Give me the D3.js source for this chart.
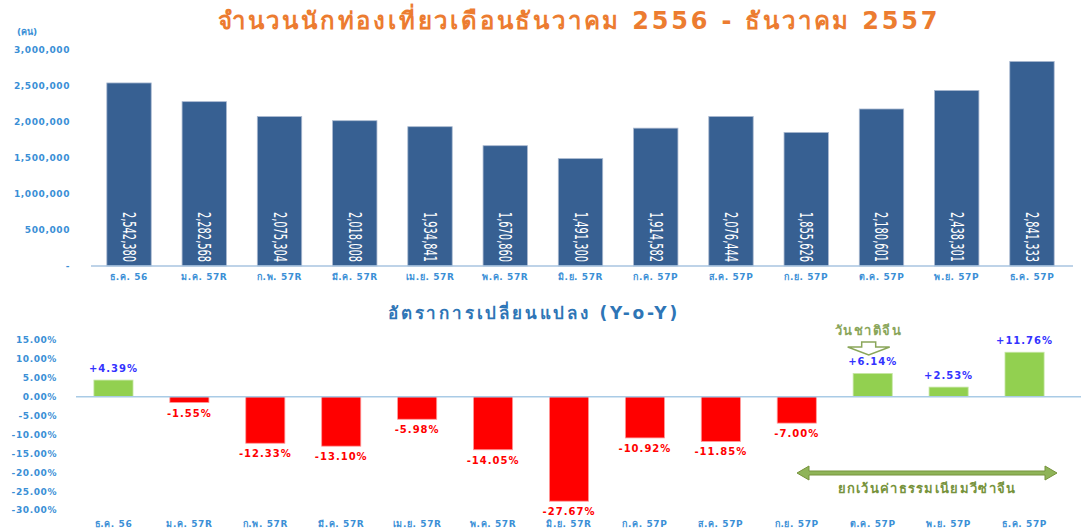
<!DOCTYPE html>
<html>
<head>
<meta charset="utf-8">
<title>D3</title>
<script src="https://d3js.org/d3.v7.min.js"></script>
<style>
  body { margin: 0; background: #fff; }
  text { font-family: "DejaVu Sans", "Noto Sans", sans-serif; }
</style>
</head>
<body>
<div id="my_dataviz"></div>
<script>
// months (R = revised, P = preliminary)
var months = ["ธ.ค. 56", "ม.ค. 57R", "ก.พ. 57R", "มี.ค. 57R", "เม.ย. 57R", "พ.ค. 57R", "มิ.ย. 57R",
              "ก.ค. 57P", "ส.ค. 57P", "ก.ย. 57P", "ต.ค. 57P", "พ.ย. 57P", "ธ.ค. 57P"];
// tourists per month
var tourists = [2542380, 2282568, 2075304, 2018008, 1934841, 1670860, 1491300,
                1914582, 2076444, 1855626, 2180601, 2438301, 2841333];
// year-on-year change, %
var yoy = [4.39, -1.55, -12.33, -13.10, -5.98, -14.05, -27.67,
           -10.92, -11.85, -7.00, 6.14, 2.53, 11.76];
var countTicks = [0, 500000, 1000000, 1500000, 2000000, 2500000, 3000000];
var pctTicks = [15, 10, 5, 0, -5, -10, -15, -20, -25, -30];

var W = 1081, H = 528;
var svg = d3.select("#my_dataviz").append("svg")
  .attr("width", W).attr("height", H);

var tickBlue = "#3b8fd6";

// ---------- top chart ----------
svg.append("text")
  .attr("x", 579).attr("y", 29)
  .attr("text-anchor", "middle")
  .style("font-size", "24px").style("font-weight", "bold")
  .style("letter-spacing", "2.8px")
  .style("fill", "#ec7c30")
  .text("จำนวนนักท่องเที่ยวเดือนธันวาคม  2556 - ธันวาคม 2557");

svg.append("text")
  .attr("x", 17).attr("y", 35)
  .style("font-size", "9px").style("font-weight", "bold")
  .style("fill", tickBlue)
  .text("(คน)");

var x1 = d3.scaleBand().domain(months).range([91.4, 1069.6])
  .paddingInner(0.41).paddingOuter(0.205);
var y1 = d3.scaleLinear().domain([0, 3000000]).range([266, 50]);

var yAxis1 = svg.append("g")
  .attr("transform", "translate(76,0)")
  .call(d3.axisLeft(y1).tickValues(countTicks).tickSize(0).tickPadding(6)
    .tickFormat(function(d) { return d === 0 ? "-" : d3.format(",")(d); }));
yAxis1.select(".domain").remove();
yAxis1.selectAll("text")
  .style("font-size", "9px").style("font-weight", "bold")
  .style("letter-spacing", "0.6px").style("fill", tickBlue);

svg.selectAll(".tbar")
  .data(tourists)
  .enter().append("rect")
  .attr("class", "tbar")
  .attr("x", function(d, i) { return x1(months[i]); })
  .attr("y", function(d) { return y1(d); })
  .attr("width", x1.bandwidth())
  .attr("height", function(d) { return y1(0) - y1(d); })
  .style("fill", "#376092")
  .style("stroke", "#aab9d0").style("stroke-width", 0.8);

svg.selectAll(".tlab")
  .data(tourists)
  .enter().append("text")
  .attr("class", "tlab")
  .attr("transform", function(d, i) {
    return "translate(" + (x1(months[i]) + x1.bandwidth() / 2 - 6) + "," + (y1(0) - 54) + ") rotate(90)";
  })
  .attr("textLength", 50)
  .attr("lengthAdjust", "spacingAndGlyphs")
  .style("font-family", "'Liberation Sans Narrow', 'DejaVu Sans Condensed', sans-serif")
  .style("font-size", "17px")
  .style("fill", "#fff")
  .text(function(d) { return d3.format(",")(d); });

var xAxis1 = svg.append("g")
  .attr("transform", "translate(0," + y1(0) + ")")
  .call(d3.axisBottom(x1).tickSize(0).tickPadding(8));
xAxis1.select(".domain").attr("d", "M91,0H1073").style("stroke", "#a9c4e0").style("stroke-width", 1.5);
xAxis1.selectAll("text")
  .style("font-size", "9px").style("font-weight", "bold")
  .style("letter-spacing", "0.6px").style("fill", tickBlue);

// ---------- bottom chart ----------
svg.append("text")
  .attr("x", 534).attr("y", 319)
  .attr("text-anchor", "middle")
  .style("font-size", "17px").style("font-weight", "bold")
  .style("letter-spacing", "2.8px")
  .style("fill", "#2e75b6")
  .text("อัตราการเปลี่ยนแปลง (Y-o-Y)");

var x2 = d3.scaleBand().domain(months).range([75.5, 1062.5])
  .paddingInner(0.485).paddingOuter(0.2425);
var y2 = d3.scaleLinear().domain([-30, 15]).range([510, 340]);

var yAxis2 = svg.append("g")
  .attr("transform", "translate(63,0)")
  .call(d3.axisLeft(y2).tickValues(pctTicks).tickSize(0).tickPadding(6)
    .tickFormat(function(d) { return d.toFixed(2) + "%"; }));
yAxis2.select(".domain").remove();
yAxis2.selectAll("text")
  .style("font-size", "9px").style("font-weight", "bold")
  .style("letter-spacing", "0.6px").style("fill", tickBlue);

svg.selectAll(".ybar")
  .data(yoy)
  .enter().append("rect")
  .attr("class", "ybar")
  .attr("x", function(d, i) { return x2(months[i]); })
  .attr("y", function(d) { return y2(Math.max(0, d)); })
  .attr("width", x2.bandwidth())
  .attr("height", function(d) { return Math.abs(y2(d) - y2(0)); })
  .style("fill", function(d) { return d >= 0 ? "#92d050" : "#ff0000"; })
  .style("stroke", function(d) { return d >= 0 ? "#c6e6a4" : "#ff9a9a"; })
  .style("stroke-width", 0.8);

svg.append("line")
  .attr("x1", 76).attr("x2", 1081)
  .attr("y1", y2(0)).attr("y2", y2(0))
  .style("stroke", "#a9cbe6").style("stroke-width", 1.5);

svg.selectAll(".ylab")
  .data(yoy)
  .enter().append("text")
  .attr("class", "ylab")
  .attr("x", function(d, i) { return x2(months[i]) + x2.bandwidth() / 2; })
  .attr("y", function(d) { return d >= 0 ? y2(d) - 8 : y2(d) + 14; })
  .attr("text-anchor", "middle")
  .style("font-size", "10px").style("font-weight", "bold")
  .style("letter-spacing", "1px")
  .style("fill", function(d) { return d >= 0 ? "#3333ff" : "#ff0000"; })
  .text(function(d) { return (d >= 0 ? "+" : "") + d.toFixed(2) + "%"; });

var xAxis2 = svg.append("g")
  .attr("transform", "translate(0,527)")
  .call(d3.axisBottom(x2).tickSize(0).tickPadding(0));
xAxis2.select(".domain").remove();
xAxis2.selectAll("text")
  .attr("dy", 0)
  .style("font-size", "9px").style("font-weight", "bold")
  .style("letter-spacing", "0.6px").style("fill", tickBlue);

// ---------- annotations ----------
var olive = "#77933c";
var cx = x2("ต.ค. 57P") + x2.bandwidth() / 2 - 4;
svg.append("text")
  .attr("x", cx).attr("y", 335)
  .attr("text-anchor", "middle")
  .style("font-size", "13px").style("font-weight", "bold")
  .style("letter-spacing", "1.5px")
  .style("fill", "#8aa65a")
  .text("วันชาติจีน");
svg.append("path")
  .attr("d", "M" + (cx - 7) + ",342 H" + (cx + 7) + " V347 H" + (cx + 21) +
             " L" + cx + ",355 L" + (cx - 21) + ",347 H" + (cx - 7) + " Z")
  .style("fill", "#fff").style("stroke", "#8aa65a").style("stroke-width", 1.5);

var ax0 = 797, ax1 = 1057, ay = 473;
svg.append("path")
  .attr("d", "M" + ax0 + "," + ay + " L" + (ax0 + 12) + "," + (ay - 7) + " V" + (ay - 2) +
             " H" + (ax1 - 12) + " V" + (ay - 7) + " L" + ax1 + "," + ay +
             " L" + (ax1 - 12) + "," + (ay + 7) + " V" + (ay + 2) +
             " H" + (ax0 + 12) + " V" + (ay + 7) + " Z")
  .style("fill", "#8fb458").style("stroke", olive).style("stroke-width", 1);
svg.append("text")
  .attr("x", 927).attr("y", 493)
  .attr("text-anchor", "middle")
  .style("font-size", "13px").style("font-weight", "bold")
  .style("letter-spacing", "1.3px")
  .style("fill", olive)
  .text("ยกเว้นค่าธรรมเนียมวีซ่าจีน");
</script>
</body>
</html>
